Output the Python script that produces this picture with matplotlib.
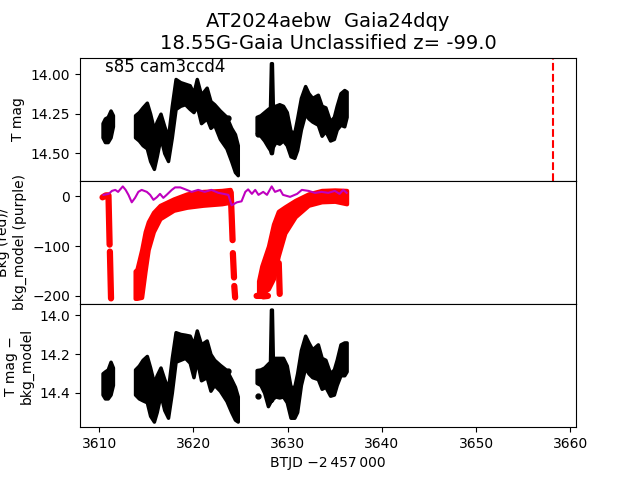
import numpy as np
import matplotlib.pyplot as plt
from matplotlib.ticker import FormatStrFormatter

# light curve envelopes: time, bright edge, faint edge
tA = [3610.35, 3610.6, 3610.9, 3611.2, 3611.45]
magA_hi = [14.31, 14.28, 14.27, 14.23, 14.26]
magA_lo = [14.40, 14.43, 14.43, 14.40, 14.33]
detA_hi = [14.30, 14.29, 14.28, 14.24, 14.27]
detA_lo = [14.41, 14.43, 14.43, 14.41, 14.36]

tB = [3613.8, 3614.2, 3614.6, 3615.05, 3615.4, 3615.8, 3616.1, 3616.5, 3616.9,
      3617.3, 3617.7, 3618.1, 3618.6, 3619.1, 3619.6, 3620.0, 3620.35, 3620.8,
      3621.4, 3621.8, 3622.2, 3622.8, 3623.5, 3624.0, 3624.4, 3624.7]
magB_hi = [14.26, 14.24, 14.21, 14.18, 14.25, 14.35, 14.30, 14.25, 14.33,
           14.40, 14.20, 14.03, 14.05, 14.06, 14.07, 14.12, 14.03, 14.13,
           14.085, 14.17, 14.19, 14.23, 14.27, 14.34, 14.38, 14.45]
magB_lo = [14.40, 14.42, 14.45, 14.47, 14.55, 14.60, 14.52, 14.40, 14.50,
           14.55, 14.40, 14.22, 14.20, 14.19, 14.22, 14.24, 14.20, 14.31,
           14.28, 14.34, 14.32, 14.41, 14.47, 14.55, 14.62, 14.64]
detB_hi = [14.28, 14.26, 14.23, 14.21, 14.27, 14.35, 14.31, 14.27, 14.33,
           14.38, 14.22, 14.087, 14.096, 14.10, 14.105, 14.15, 14.078, 14.15,
           14.13, 14.20, 14.23, 14.256, 14.283, 14.33, 14.37, 14.42]
detB_lo = [14.41, 14.43, 14.44, 14.45, 14.52, 14.55, 14.50, 14.41, 14.49,
           14.53, 14.40, 14.24, 14.23, 14.22, 14.245, 14.32, 14.23, 14.336,
           14.32, 14.39, 14.36, 14.39, 14.443, 14.50, 14.54, 14.55]

tC = [3626.7, 3627.1, 3627.5, 3627.9, 3628.12, 3628.22, 3628.32, 3628.42, 3628.7,
      3629.1, 3629.5, 3629.9, 3630.3, 3630.7, 3631.0, 3631.4, 3631.85, 3632.2,
      3632.6, 3633.2, 3633.6, 3634.0, 3634.5, 3634.9, 3635.2, 3635.6, 3636.0, 3636.25]
magC_hi = [14.27, 14.26, 14.24, 14.22, 14.21, 13.93, 13.93, 14.20, 14.20,
           14.19, 14.20, 14.24, 14.36, 14.37, 14.28, 14.15, 14.075, 14.12,
           14.15, 14.13, 14.20, 14.21, 14.30, 14.27, 14.20, 14.12, 14.10, 14.11]
magC_lo = [14.37, 14.39, 14.42, 14.46, 14.48, 14.50, 14.50, 14.46, 14.43,
           14.44, 14.42, 14.45, 14.52, 14.53, 14.48, 14.35, 14.25, 14.28,
           14.30, 14.32, 14.39, 14.36, 14.42, 14.41, 14.35, 14.32, 14.33, 14.27]
detC_hi = [14.283, 14.28, 14.27, 14.25, 14.24, 13.97, 13.97, 14.22, 14.22,
           14.22, 14.22, 14.26, 14.37, 14.37, 14.30, 14.18, 14.105, 14.14,
           14.176, 14.15, 14.22, 14.23, 14.30, 14.28, 14.23, 14.15, 14.14, 14.14]
detC_lo = [14.35, 14.36, 14.40, 14.47, 14.45, 14.44, 14.44, 14.43, 14.42,
           14.425, 14.42, 14.45, 14.53, 14.53, 14.50, 14.36, 14.27, 14.30,
           14.32, 14.33, 14.38, 14.37, 14.416, 14.41, 14.36, 14.31, 14.31, 14.29]

# stray single points
t_out = [3623.7, 3626.8]
mag_out = [14.28, 14.38]
det_out = [14.29, 14.415]

# background (red) envelopes
bkgB_t = [3613.8, 3614.0, 3614.5, 3614.87, 3615.2, 3615.75, 3616.45, 3617.9,
          3619.3, 3621.0, 3623.0, 3623.9]
bkgB_hi = [-150, -146, -107, -71, -51, -32, -18, -5, 5, 10, 12, 14]
bkgB_lo = [-205, -205, -203, -150, -107, -71, -45, -28, -22, -18, -15, -12]

bkgC_t = [3626.9, 3627.24, 3627.95, 3628.48, 3629.0, 3629.7, 3630.8, 3632.2,
          3633.6, 3635.0, 3636.25]
bkgC_hi = [-170, -140, -100, -56, -30, -21, -8, 5, 12, 13, 12]
bkgC_lo = [-200, -196, -186, -166, -120, -74, -41, -18, -11, -10, -15]

# background points that drop almost vertically
colA_t = [3610.35, 3610.7, 3610.98, 3611.1, np.nan, 3611.13, 3611.25]
colA_v = [-2, 2, 2, -97, np.nan, -111, -205]
colB_t = [3623.95, 3624.05, 3624.15, np.nan, 3624.18, 3624.3, np.nan, 3624.33, 3624.42]
colB_v = [8, -38, -88, np.nan, -114, -163, np.nan, -180, -203]
colC_t = [3629.05, 3629.15]
colC_v = [-134, -196]
botC_t = [3626.7, 3627.1, np.nan, 3627.4, 3627.9]
botC_v = [-200, -200, np.nan, -201, -200]

# background model (purple)
mod_t = [3610.45, 3611.0, 3611.35, 3611.7, 3612.0, 3612.5, 3612.8, 3613.1, 3613.45,
         3613.8, 3614.15, 3614.5, 3615.05, 3615.4, 3615.75, 3616.1, 3616.45, 3616.8,
         3617.15, 3617.7, 3618.05, 3618.6, 3619.15, 3619.8, 3620.5, 3621.2, 3621.9,
         3622.65, 3623.2, 3623.7, 3624.05, 3624.6, 3625.1, 3625.5, 3625.8, 3626.2,
         3626.55, 3626.9, 3627.4, 3627.8, 3628.3, 3628.65, 3629.2, 3629.5, 3630.25,
         3631.0, 3631.5, 3632.2, 3632.9, 3633.6, 3634.3, 3635.0, 3635.5, 3635.9, 3636.25]
mod_v = [3, 5, 11, 13, 9, 20, 13, 3, -12, -3, 9, 13, 9, 3, -7, -2, 5, -3, 3, 13, 18,
         18, 14, 9, 13, 9, 13, 7, 5, 3, -18, -12, -10, 9, 14, 5, 13, 3, 9, 3, 20, 9,
         13, 3, -1, 5, 13, 11, 7, 9, 7, 11, 5, 13, 7]

t_disc = 3658.2

fig, (ax1, ax2, ax3) = plt.subplots(3, 1, sharex=True)
fig.subplots_adjust(hspace=0)

# T mag
for t, hi, lo in [(tA, magA_hi, magA_lo), (tB, magB_hi, magB_lo), (tC, magC_hi, magC_lo)]:
    ax1.fill_between(t, hi, lo, color='k', lw=2.5, edgecolor='k', joinstyle='round')
ax1.plot(t_out, mag_out, 'k.', ms=7)
ax1.axvline(t_disc, color='r', ls='--', lw=1.5)
ax1.invert_yaxis()
ax1.set_yticks([14.0, 14.25, 14.5])
ax1.yaxis.set_major_formatter(FormatStrFormatter('%.2f'))
ax1.set_ylabel('T mag')
ax1.text(0.05, 0.88, 's85 cam3ccd4', transform=ax1.transAxes, fontsize=12)
ax1.set_title('AT2024aebw  Gaia24dqy\n18.55G-Gaia Unclassified z= -99.0', fontsize=14)

# background
for t, hi, lo in [(bkgB_t, bkgB_hi, bkgB_lo), (bkgC_t, bkgC_hi, bkgC_lo)]:
    ax2.fill_between(t, hi, lo, color='r', lw=3, edgecolor='r', joinstyle='round')
for t, v in [(colA_t, colA_v), (colB_t, colB_v), (colC_t, colC_v), (botC_t, botC_v)]:
    ax2.plot(t, v, '-', color='r', lw=4.5, solid_capstyle='round')
ax2.plot(mod_t, mod_v, '-', color='m', lw=1.5)
ax2.set_ylabel('Bkg (red)/\nbkg_model (purple)')

# T mag - model
for t, hi, lo in [(tA, detA_hi, detA_lo), (tB, detB_hi, detB_lo), (tC, detC_hi, detC_lo)]:
    ax3.fill_between(t, hi, lo, color='k', lw=2.5, edgecolor='k', joinstyle='round')
ax3.plot(t_out, det_out, 'k.', ms=7)
ax3.invert_yaxis()
ax3.set_yticks([14.0, 14.2, 14.4])
ax3.yaxis.set_major_formatter(FormatStrFormatter('%.1f'))
ax3.set_ylabel('T mag \u2212\nbkg_model')
ax3.set_xlabel('BTJD \u22122\u2009457\u2009000')

fig.savefig('out.png', dpi=100)
